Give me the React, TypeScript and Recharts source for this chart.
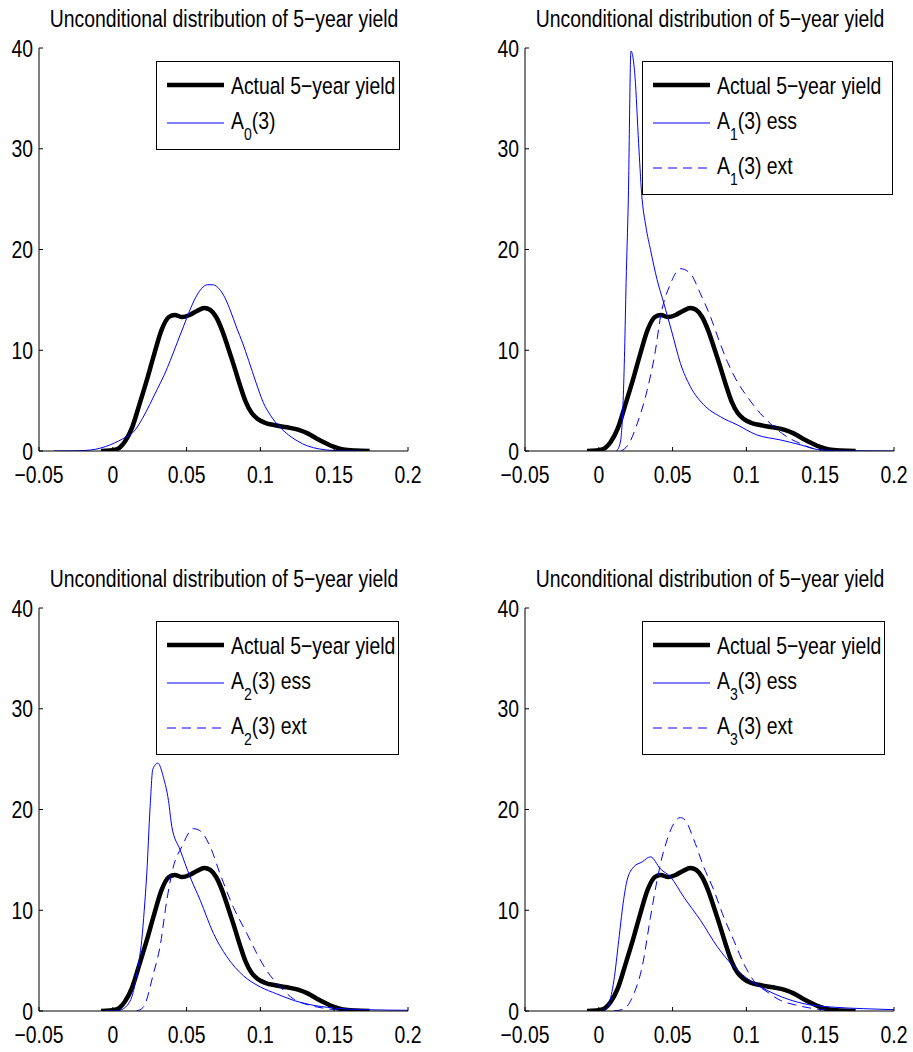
import React from "react";
import { LineChart, Line, XAxis, YAxis, Legend } from "recharts";

// shared axis setup
const xTicks = [-0.05, 0, 0.05, 0.1, 0.15, 0.2];
const yTicks = [0, 10, 20, 30, 40];
const TITLE = "Unconditional distribution of 5\u2212year yield";

// actual 5-year yield density (same in every panel)
const actualX = [-0.008, -0.002, 0.003, 0.008, 0.013, 0.018, 0.023, 0.028, 0.033, 0.038, 0.042, 0.047, 0.052, 0.057, 0.062, 0.066, 0.07, 0.074, 0.078, 0.082, 0.086, 0.09, 0.094, 0.098, 0.103, 0.11, 0.118, 0.126, 0.132, 0.138, 0.144, 0.15, 0.156, 0.164, 0.174];
const actualY = [0, 0.05, 0.2, 0.9, 2.3, 4.6, 7.0, 9.6, 12.0, 13.3, 13.5, 13.3, 13.5, 13.9, 14.2, 14.0, 13.3, 12.0, 10.3, 8.5, 6.6, 4.9, 3.8, 3.2, 2.8, 2.55, 2.35, 2.1, 1.75, 1.25, 0.8, 0.4, 0.15, 0.04, 0];

// A0(3)
const a0X = [-0.04, -0.025, -0.015, -0.008, -0.002, 0.004, 0.009, 0.014, 0.02, 0.025, 0.03, 0.035, 0.039, 0.044, 0.048, 0.052, 0.056, 0.06, 0.064, 0.068, 0.072, 0.076, 0.08, 0.084, 0.088, 0.092, 0.097, 0.102, 0.107, 0.113, 0.119, 0.125, 0.132, 0.14, 0.15, 0.17];
const a0Y = [0, 0.02, 0.1, 0.3, 0.6, 1.0, 1.4, 1.9, 3.2, 4.6, 6.1, 7.6, 9.0, 10.9, 12.4, 13.9, 15.2, 16.1, 16.5, 16.5, 16.1, 15.2, 13.8, 12.2, 10.7, 9.0, 6.8, 4.8, 3.5, 2.4, 1.6, 1.0, 0.5, 0.2, 0.05, 0];

// A1(3)
const a1EssX = [0.012, 0.0145, 0.0165, 0.0175, 0.0185, 0.02, 0.0218, 0.0245, 0.027, 0.029, 0.032, 0.035, 0.0395, 0.044, 0.0497, 0.0553, 0.062, 0.071, 0.0824, 0.0937, 0.107, 0.123, 0.137, 0.148, 0.158, 0.2];
const a1EssY = [0, 0.8, 5.0, 10.0, 16.7, 25.0, 39.7, 37.2, 30.5, 25.6, 22.2, 20.0, 17.0, 14.7, 11.7, 8.7, 6.4, 4.6, 3.4, 2.6, 1.6, 1.1, 0.6, 0.15, 0.05, 0];
const a1ExtX = [0.015, 0.0203, 0.026, 0.0327, 0.0384, 0.0418, 0.0486, 0.0553, 0.0621, 0.0689, 0.0757, 0.0824, 0.087, 0.0937, 0.1005, 0.1096, 0.1164, 0.1276, 0.1367, 0.1457, 0.16];
const a1ExtY = [0, 0.7, 2.7, 6.0, 10.0, 13.3, 16.6, 18.1, 17.6, 15.6, 13.3, 10.6, 8.9, 6.9, 5.4, 3.7, 2.7, 1.4, 0.73, 0.23, 0];

// A2(3)
const a2EssX = [-0.006, 0.004, 0.0072, 0.0105, 0.0129, 0.0145, 0.0163, 0.018, 0.0196, 0.0213, 0.023, 0.0253, 0.0271, 0.0305, 0.0343, 0.0377, 0.04, 0.0456, 0.0524, 0.0592, 0.0682, 0.0772, 0.0885, 0.0998, 0.111, 0.1224, 0.1337, 0.1495, 0.172, 0.2];
const a2EssY = [0, 0.05, 0.23, 0.7, 1.4, 2.3, 3.7, 5.2, 7.0, 10.0, 13.6, 20.3, 24.0, 24.6, 23.2, 20.9, 18.3, 16.0, 13.3, 11.0, 7.7, 5.4, 3.5, 2.4, 1.7, 1.06, 0.63, 0.3, 0.13, 0.07];
const a2ExtX = [0.016, 0.0208, 0.0275, 0.032, 0.0366, 0.041, 0.0467, 0.0546, 0.059, 0.066, 0.0727, 0.0817, 0.0908, 0.0976, 0.1043, 0.1134, 0.1224, 0.1337, 0.145, 0.1585];
const a2ExtY = [0, 0.4, 3.7, 6.4, 11.0, 14.3, 16.3, 18.1, 17.9, 16.3, 13.6, 10.3, 7.7, 5.7, 4.0, 2.4, 1.2, 0.56, 0.23, 0.05];

// A3(3)
const a3EssX = [0.0034, 0.0068, 0.0102, 0.0135, 0.0165, 0.0192, 0.0237, 0.0294, 0.035, 0.0418, 0.0486, 0.0576, 0.0689, 0.0802, 0.0915, 0.1027, 0.114, 0.1276, 0.1411, 0.157, 0.1795, 0.2];
const a3EssY = [0, 0.7, 3.0, 7.0, 10.7, 13.0, 14.3, 14.8, 15.3, 14.1, 13.3, 11.3, 9.0, 6.4, 4.4, 3.0, 2.05, 1.2, 0.66, 0.4, 0.23, 0.13];
const a3ExtX = [0.01, 0.0169, 0.0237, 0.0294, 0.035, 0.0395, 0.0429, 0.0463, 0.0497, 0.0553, 0.0587, 0.0644, 0.0711, 0.0779, 0.0847, 0.0915, 0.0982, 0.105, 0.114, 0.123, 0.1344, 0.1457, 0.157];
const a3ExtY = [0, 0.2, 1.7, 4.4, 9.3, 13.0, 15.3, 17.0, 18.3, 19.2, 18.9, 17.0, 14.3, 12.0, 9.3, 7.0, 4.7, 3.0, 1.9, 1.06, 0.56, 0.23, 0.05];

const FONT = "'Liberation Sans', Arial, Helvetica, sans-serif";
const FS = 23.5;
const SX = 0.825; // matlab's font is narrow
const BLUE = "#0000ff";
const W = 425;
const H = 490;

const zip = (xs: number[], ys: number[]) => xs.map((x, i) => ({ x, y: ys[i] }));

type Series = {
  key: string;
  main: string;
  sub?: string;
  rest?: string;
  data: { x: number; y: number }[];
  color: string;
  width: number;
  dash?: string;
};

const actual: Series = { key: "actual", main: "Actual 5\u2212year yield", data: zip(actualX, actualY), color: "#000", width: 4.5 };
const ess = (n: string, xs: number[], ys: number[]): Series => ({ key: "ess" + n, main: "A", sub: n, rest: "(3) ess", data: zip(xs, ys), color: BLUE, width: 1 });
const ext = (n: string, xs: number[], ys: number[]): Series => ({ key: "ext" + n, main: "A", sub: n, rest: "(3) ext", data: zip(xs, ys), color: BLUE, width: 1, dash: "9 6" });

const fmtX = (v: number) => (v === 0 ? "0" : v < 0 ? "\u2212" + String(-v) : String(v));

const BottomTick = (props: any) => {
  const { x, y, payload } = props;
  return (
    <g>
      <line x1={x} y1={y} x2={x} y2={y - 4} stroke="#000" />
      <text transform={`translate(${x} ${y + 32}) scale(${SX} 1)`} textAnchor="middle" fontFamily={FONT} fontSize={FS} fill="#000">
        {fmtX(payload.value)}
      </text>
    </g>
  );
};
const TopTick = (props: any) => <line x1={props.x} y1={props.y} x2={props.x} y2={props.y + 4} stroke="#000" />;
const LeftTick = (props: any) => {
  const { x, y, payload } = props;
  return (
    <g>
      <line x1={x} y1={y} x2={x + 4} y2={y} stroke="#000" />
      <text transform={`translate(${x - 6} ${y + 8.5}) scale(${SX} 1)`} textAnchor="end" fontFamily={FONT} fontSize={FS} fill="#000">
        {payload.value}
      </text>
    </g>
  );
};
const RightTick = (props: any) => <line x1={props.x} y1={props.y} x2={props.x - 4} y2={props.y} stroke="#000" />;

type Box = { w: number; h: number; rows: number[] };

const LegendBox = ({ series, box }: { series: Series[]; box: Box }) => (
  <svg width={box.w} height={box.h} style={{ display: "block" }}>
    <rect x={0.5} y={0.5} width={box.w - 1} height={box.h - 1} fill="#fff" stroke="#000" />
    {series.map((s, i) => (
      <g key={s.key}>
        <line x1={11} x2={68} y1={box.rows[i]} y2={box.rows[i]} stroke={s.color} strokeWidth={s.width} strokeDasharray={s.dash} />
        <text transform={`translate(75 ${box.rows[i] + (s.sub ? 6 : 9)}) scale(${SX} 1)`} fontFamily={FONT} fontSize={FS} fill="#000">
          {s.main}
          {s.sub && (
            <tspan dy={11} fontSize={17}>
              {s.sub}
            </tspan>
          )}
          {s.sub && <tspan dy={-11}>{s.rest}</tspan>}
        </text>
      </g>
    ))}
  </svg>
);

const Panel = ({ left, top, series, box }: { left: number; top: number; series: Series[]; box: Box }) => (
  <div style={{ position: "absolute", left, top, width: W, height: H }}>
    <LineChart width={W} height={H} margin={{ top: 48, right: 17, bottom: 9, left: 0 }}>
      <XAxis dataKey="x" type="number" domain={[-0.05, 0.2]} ticks={xTicks} interval={0} height={30} tickSize={0} tickMargin={0} tick={BottomTick} stroke="#000" allowDataOverflow />
      <XAxis xAxisId="top" orientation="top" type="number" domain={[-0.05, 0.2]} ticks={xTicks} interval={0} height={0} tickSize={0} tickMargin={0} tick={TopTick} stroke="#000" allowDataOverflow />
      <YAxis type="number" domain={[0, 40]} ticks={yTicks} interval={0} width={39} tickSize={0} tickMargin={0} tick={LeftTick} stroke="#000" allowDataOverflow />
      <YAxis yAxisId="right" orientation="right" type="number" domain={[0, 40]} ticks={yTicks} interval={0} width={0} tickSize={0} tickMargin={0} tick={RightTick} stroke="#000" allowDataOverflow />
      {series.map((s) => (
        <Line
          key={s.key}
          data={s.data}
          dataKey="y"
          name={s.key}
          type="monotone"
          stroke={s.color}
          strokeWidth={s.width}
          strokeDasharray={s.dash}
          dot={false}
          activeDot={false}
          isAnimationActive={false}
        />
      ))}
      <Legend
        layout="vertical"
        align="center"
        verticalAlign="middle"
        wrapperStyle={{ left: 156, top: 61, width: box.w, height: box.h, margin: 0 }}
        content={() => <LegendBox series={series} box={box} />}
      />
    </LineChart>
    <div
      style={{
        position: "absolute",
        left: 223.5,
        top: 7,
        fontFamily: FONT,
        fontSize: FS,
        lineHeight: "24px",
        whiteSpace: "nowrap",
        color: "#000",
        transform: `translateX(-50%) scaleX(${SX})`,
      }}
    >
      {TITLE}
    </div>
  </div>
);

export default function App() {
  return (
    <div style={{ position: "absolute", left: 0, top: 0, width: 913, height: 1052, overflow: "hidden", background: "#fff" }}>
      <Panel left={0} top={0} series={[actual, { ...ess("0", a0X, a0Y), rest: "(3)" }]} box={{ w: 244, h: 89, rows: [24, 62] }} />
      <Panel left={486} top={0} series={[actual, ess("1", a1EssX, a1EssY), ext("1", a1ExtX, a1ExtY)]} box={{ w: 251, h: 134, rows: [24, 62, 107] }} />
      <Panel left={0} top={560} series={[actual, ess("2", a2EssX, a2EssY), ext("2", a2ExtX, a2ExtY)]} box={{ w: 243, h: 134, rows: [24, 62, 107] }} />
      <Panel left={486} top={560} series={[actual, ess("3", a3EssX, a3EssY), ext("3", a3ExtX, a3ExtY)]} box={{ w: 243, h: 134, rows: [24, 62, 107] }} />
    </div>
  );
}
